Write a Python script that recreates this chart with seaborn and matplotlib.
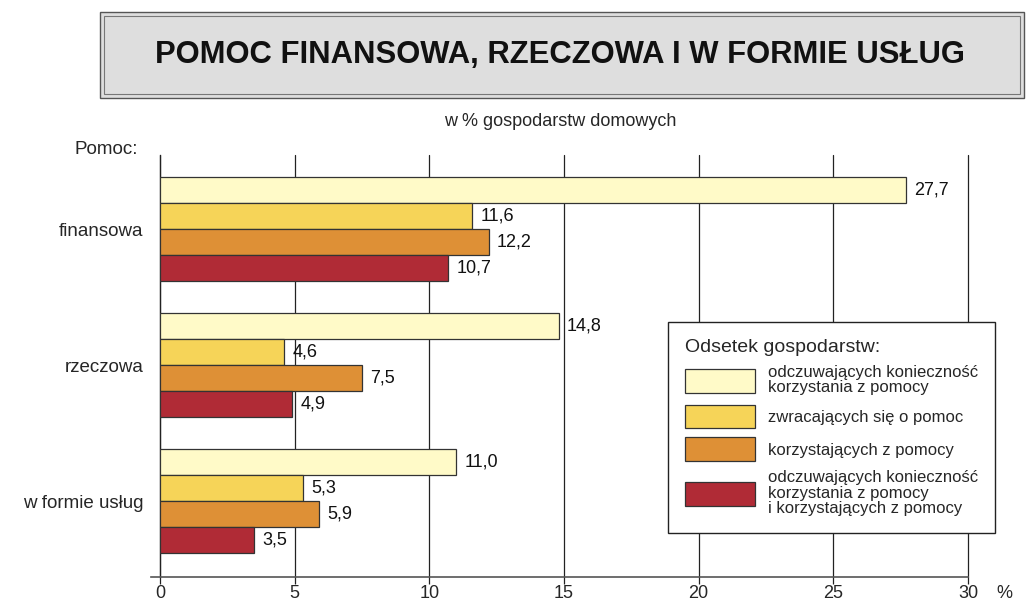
import matplotlib
matplotlib.use("Agg")
import matplotlib.pyplot as plt
import seaborn as sns
import pandas as pd
from matplotlib.patches import Rectangle, Patch

categories = ["finansowa", "rzeczowa", "w formie usług"]
series = [
    "odczuwających konieczność\nkorzystania z pomocy",
    "zwracających się o pomoc",
    "korzystających z pomocy",
    "odczuwających konieczność\nkorzystania z pomocy\ni korzystających z pomocy",
]
values = {
    series[0]: [27.7, 14.8, 11.0],
    series[1]: [11.6, 4.6, 5.3],
    series[2]: [12.2, 7.5, 5.9],
    series[3]: [10.7, 4.9, 3.5],
}
colors = ["#FFFAC8", "#F6D458", "#DE9036", "#B02B36"]
xticks = [0, 5, 10, 15, 20, 25, 30]

rows = []
for s in series:
    for c, v in zip(categories, values[s]):
        rows.append({"Pomoc": c, "Seria": s, "Wartosc": v})
df = pd.DataFrame(rows)

sns.set_theme(style="white")
plt.rcParams["font.family"] = ["Liberation Sans", "DejaVu Sans"]

fig = plt.figure(figsize=(10.27, 6.04), dpi=100)
ax = fig.add_axes([160 / 1027, 1 - 577 / 604, 808 / 1027, 422 / 604])

sns.barplot(data=df, y="Pomoc", x="Wartosc", hue="Seria", hue_order=series,
            order=categories, palette=colors, orient="h", width=0.765,
            edgecolor="#333333", linewidth=0.9, saturation=1, ax=ax,
            legend=False, zorder=3)

for cont in ax.containers:
    labels = [f"{v:.1f}".replace(".", ",") for v in cont.datavalues]
    ax.bar_label(cont, labels=labels, padding=6, fontsize=13, color="#111111")

ax.set_xlim(0, 30)
ax.set_ylim(2.559, -0.548)
ax.set_xticks(xticks)
ax.set_xticklabels([str(t) for t in xticks], fontsize=13)
ax.xaxis.grid(True, color="#222222", linewidth=0.9, zorder=0)
for gl in ax.get_xgridlines():
    gl.set_clip_on(False)
ax.set_axisbelow(True)
ax.tick_params(axis="x", direction="out", length=5, width=0.9, color="#222222",
               pad=1, bottom=True)
ax.tick_params(axis="y", length=0, pad=12, labelsize=13.5)
ax.set_ylabel("")
ax.set_xlabel("")
for side in ["top", "right"]:
    ax.spines[side].set_visible(False)
ax.spines["left"].set_color("#222222")
ax.spines["left"].set_linewidth(0.9)
ax.spines["bottom"].set_color("#555555")
ax.spines["bottom"].set_linewidth(1.2)
ax.spines["bottom"].set_bounds(-0.35, 30)

fig.text(1004 / 1027, 1 - 594 / 604, "%", fontsize=13, ha="center", va="center")
fig.text(75 / 1027, 1 - 150 / 604, "Pomoc:", fontsize=13.5, ha="left", va="center")
fig.text(560 / 1027, 1 - 122 / 604, "w % gospodarstw domowych", fontsize=13,
         ha="center", va="center")

# title box
fig.patches.append(Rectangle((100 / 1027, 1 - 98 / 604), 924 / 1027, 86 / 604,
                             transform=fig.transFigure, facecolor="#DEDEDE",
                             edgecolor="#555555", linewidth=1.0, zorder=0))
fig.patches.append(Rectangle((104 / 1027, 1 - 94 / 604), 916 / 1027, 78 / 604,
                             transform=fig.transFigure, facecolor="none",
                             edgecolor="#777777", linewidth=0.8, zorder=1))
fig.text(560 / 1027, 1 - 55 / 604, "POMOC FINANSOWA, RZECZOWA I W FORMIE USŁUG",
         fontsize=22.3, fontweight="bold", ha="center", va="center",
         color="#111111")

handles = [Patch(facecolor=c, edgecolor="#333333", linewidth=0.9) for c in colors]
leg = fig.legend(handles, series, loc="upper left",
                 bbox_to_anchor=(668 / 1027, 1 - 322 / 604),
                 title="Odsetek gospodarstw:", title_fontsize=14, fontsize=12,
                 frameon=True, fancybox=False, edgecolor="#222222", framealpha=1,
                 handlelength=4.2, handleheight=1.8, handletextpad=0.8,
                 labelspacing=0.55, borderpad=1.0, alignment="left",
                 borderaxespad=0)
leg.get_frame().set_linewidth(1.0)
for t in leg.get_texts():
    t.set_linespacing(1.05)

fig.savefig("out.png", dpi=100)
